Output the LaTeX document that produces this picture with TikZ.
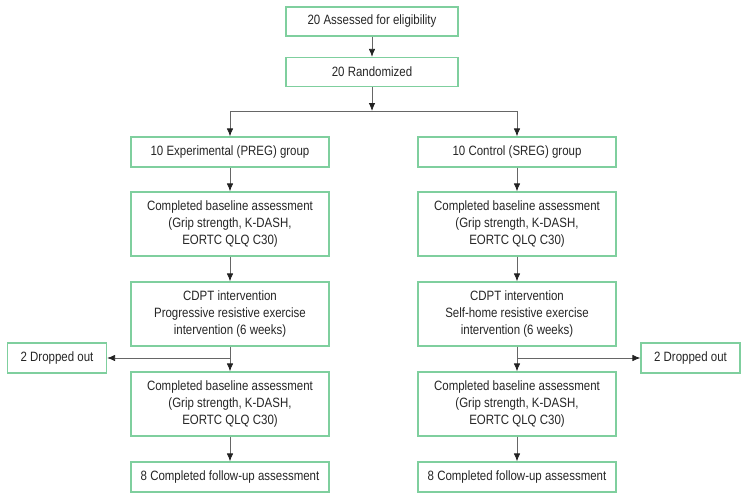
\documentclass[tikz,border=0pt]{standalone}
\usepackage{fontspec}
\setmainfont{Liberation Sans}[FakeStretch=0.85]
\usetikzlibrary{arrows.meta}
\definecolor{boxgreen}{HTML}{7FCF9E}
\definecolor{linegray}{HTML}{666666}
\definecolor{tipgray}{HTML}{222222}
\tikzset{
  box/.style={draw=boxgreen, line width=1.2pt, fill=white, minimum width=198pt, align=center, inner sep=0pt,
    text=black!85, font=\fontsize{13.5}{16.8}\selectfont},
  conn/.style={draw=linegray, line width=0.8pt, -{Latex[length=8pt,width=6.5pt,color=tipgray]}},
  plain/.style={draw=linegray, line width=0.8pt}
}
\begin{document}
\begin{tikzpicture}[x=1pt,y=-1pt]
\useasboundingbox (0,0) rectangle (745,499);
\node[box, minimum width=172pt, minimum height=29pt] (top) at (372,21.5) {20 Assessed for eligibility};
\node[box, minimum width=172pt, minimum height=29pt] (rand) at (372,72) {20 Randomized};
\coordinate (split) at (372,111);
\coordinate (splitL) at (230,111);
\coordinate (splitR) at (517,111);
\node[box, minimum height=30pt] (expL) at (230,152) {10 Experimental (PREG) group};
\node[box, minimum height=30pt] (expR) at (517,152) {10 Control (SREG) group};
\node[box, minimum height=64pt] (baseL) at (230,224) {Completed baseline assessment\\(Grip strength, K-DASH,\\EORTC QLQ C30)};
\node[box, minimum height=64pt] (baseR) at (517,224) {Completed baseline assessment\\(Grip strength, K-DASH,\\EORTC QLQ C30)};
\node[box, minimum height=64pt] (cdptL) at (230,314) {CDPT intervention\\Progressive resistive exercise\\intervention (6 weeks)};
\node[box, minimum height=64pt] (cdptR) at (517,314) {CDPT intervention\\Self-home resistive exercise\\intervention (6 weeks)};
\node[box, minimum width=99pt, minimum height=30pt] (dropL) at (57,358) {2 Dropped out};
\node[box, minimum width=99pt, minimum height=30pt] (dropR) at (690.5,358) {2 Dropped out};
\node[box, minimum height=64pt] (postL) at (230,404) {Completed baseline assessment\\(Grip strength, K-DASH,\\EORTC QLQ C30)};
\node[box, minimum height=64pt] (postR) at (517,404) {Completed baseline assessment\\(Grip strength, K-DASH,\\EORTC QLQ C30)};
\node[box, minimum height=30pt] (finL) at (230,477) {8 Completed follow-up assessment};
\node[box, minimum height=30pt] (finR) at (517,477) {8 Completed follow-up assessment};
\coordinate (dL) at (230,358);
\coordinate (dR) at (517,358);

\draw[conn] (top) -- (rand);
\draw[conn] (rand) -- (split);
\draw[plain] (splitL) -- (splitR);
\draw[conn] (splitL) -- (expL);
\draw[conn] (splitR) -- (expR);
\draw[conn] (expL) -- (baseL);
\draw[conn] (expR) -- (baseR);
\draw[conn] (baseL) -- (cdptL);
\draw[conn] (baseR) -- (cdptR);
\draw[conn] (cdptL) -- (postL);
\draw[conn] (cdptR) -- (postR);
\draw[conn] (dL) -- (dropL);
\draw[conn] (dR) -- (dropR);
\draw[conn] (postL) -- (finL);
\draw[conn] (postR) -- (finR);
\end{tikzpicture}
\end{document}
